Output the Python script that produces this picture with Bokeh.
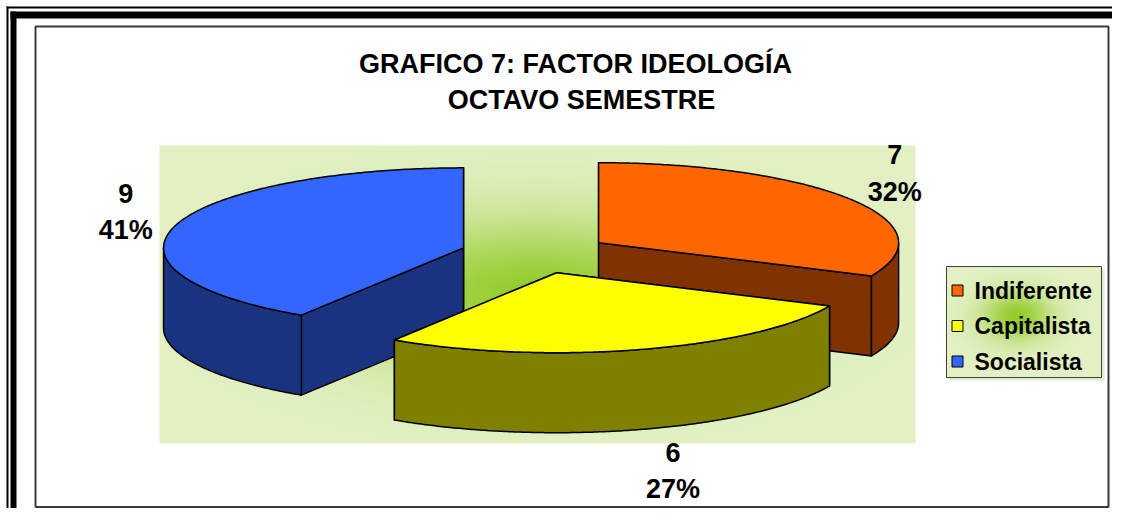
import numpy as np
from bokeh.plotting import figure
from bokeh.models import Range1d
from bokeh.embed import file_html
from bokeh.resources import INLINE
from bokeh.core.properties import value

# ---------------- data ----------------
categories = ["Indiferente", "Capitalista", "Socialista"]
counts = [7, 6, 9]
top_colors = ["#FF6600", "#FFFF00", "#3366FF"]
side_colors = ["#803300", "#808000", "#1A3380"]
title_lines = ["GRAFICO 7: FACTOR IDEOLOGÍA", "OCTAVO SEMESTRE"]

# ---------------- layout (pixels) ----------------
W, H = 1112, 508
FONT = value("Liberation Sans")

p = figure(width=W, height=H, x_range=Range1d(0, W), y_range=Range1d(-H, 0),
           output_backend="svg", toolbar_location=None, min_border=0)
p.axis.visible = False
p.grid.visible = False
p.outline_line_color = None
p.background_fill_color = "white"
p.border_fill_color = "white"


def Y(sy):
    return -np.asarray(sy, dtype=float)


def rect(l, t, r, b, **kw):
    p.quad(left=l, right=r, top=float(Y(t)), bottom=float(Y(b)), **kw)


# outer frame (double line)
rect(6, 6, W, 8, fill_color="black", line_color=None)
rect(6, 6, 8, H, fill_color="black", line_color=None)
rect(10, 11, W, 18, fill_color="black", line_color=None)
rect(10, 11, 16, H, fill_color="black", line_color=None)
# inner chart border
rect(35, 26, 1108, H - 1.5, fill_color=None, line_color="#3a3a3a", line_width=2)


def gradient(w, h, cu, cv, su, sv, spread):
    edge = np.array([227, 241, 196], dtype=float)
    centre = np.array([150, 204, 45], dtype=float)
    yy, xx = np.mgrid[0:h, 0:w]
    u = (xx - cu) / su
    v = (yy - cv) / sv
    r = np.sqrt(u ** 2 + v ** 2)
    wgt = np.exp(-(r / spread) ** 2)[..., None]
    col = edge + (centre - edge) * wgt
    img = np.zeros((h, w), dtype=np.uint32)
    view = img.view(dtype=np.uint8).reshape((h, w, 4))
    view[..., 0] = col[..., 0]
    view[..., 1] = col[..., 1]
    view[..., 2] = col[..., 2]
    view[..., 3] = 255
    return img


# plot-area background
PA_L, PA_T, PA_R, PA_B = 159, 145, 915, 443
pw, ph = PA_R - PA_L, PA_B - PA_T
img = gradient(pw, ph, pw * 0.5, ph * 0.5, pw * 0.5, ph * 0.5, 0.5)
p.image_rgba(image=[img], x=PA_L, y=float(Y(PA_B)), dw=pw, dh=ph)

# ---------------- 3D exploded pie ----------------
CX, CY = 535.0, 253.0
RX, RY = 300.0, 80.0
DEPTH = 80.0
EXPLODE = 0.25

vals = np.array(counts, dtype=float)
frac = vals / vals.sum()
ends_cum = np.cumsum(frac) * 360.0
starts = 90.0 - (ends_cum - frac * 360.0)
ends = 90.0 - ends_cum
mids = (starts + ends) / 2.0

order = np.argsort(-np.sin(np.radians(mids)))  # back slices first
for i in order:
    s, e, m = starts[i], ends[i], mids[i]
    mr = np.radians(m)
    ax = CX + EXPLODE * RX * np.cos(mr)
    ay = CY - EXPLODE * RY * np.sin(mr)
    t = np.radians(np.linspace(s, e, 200))
    arc_x = ax + RX * np.cos(t)
    arc_y = ay - RY * np.sin(t)
    kw = dict(line_color="black", line_width=1.5, line_join="round")
    # radial faces
    for k in (0, -1):
        qx = [ax, arc_x[k], arc_x[k], ax]
        qy = [ay, arc_y[k], arc_y[k] + DEPTH, ay + DEPTH]
        p.patch(qx, list(Y(qy)), fill_color=side_colors[i], **kw)
    # outer wall (front part)
    front = np.sin(t) <= 1e-9
    if front.any():
        fx = arc_x[front]
        fy = arc_y[front]
        wx = np.concatenate([fx, fx[::-1]])
        wy = np.concatenate([fy, (fy + DEPTH)[::-1]])
        p.patch(list(wx), list(Y(wy)), fill_color=side_colors[i], **kw)
    # top face
    tx = np.concatenate([[ax], arc_x])
    ty = np.concatenate([[ay], arc_y])
    p.patch(list(tx), list(Y(ty)), fill_color=top_colors[i], **kw)

# data labels
pct = [f"{round(f * 100):d}%" for f in frac]
LPX, LPY_BACK, LPY_FRONT, FRONT_SHIFT = 52.0, 48.0, 43.0, 18.0
lx, ly = [], []
for i in range(len(counts)):
    mr = np.radians(mids[i])
    sn = np.sin(mr)
    ax = CX + EXPLODE * RX * np.cos(mr)
    ay = CY - EXPLODE * RY * sn
    x = ax + (RX + LPX) * np.cos(mr) + FRONT_SHIFT * max(0.0, -sn)
    if sn < 0:
        y = ay - (RY + LPY_FRONT) * sn + DEPTH
    else:
        y = ay - (RY + LPY_BACK) * sn
    lx.append(x)
    ly.append(y)
ly = np.array(ly)
p.text(x=lx, y=list(Y(ly - 18.5)), text=[str(c) for c in counts], text_font=FONT,
       text_font_style="bold", text_font_size="27px", text_align="center",
       text_baseline="middle", text_color="black")
p.text(x=lx, y=list(Y(ly + 18.5)), text=pct, text_font=FONT,
       text_font_style="bold", text_font_size="27px", text_align="center",
       text_baseline="middle", text_color="black")

# title
p.text(x=[575, 581], y=list(Y([63, 99])), text=title_lines, text_font=FONT,
       text_font_style="bold", text_font_size="27px", text_align="center",
       text_baseline="middle", text_color="black")

# ---------------- legend ----------------
LG_L, LG_T, LG_R, LG_B = 946, 266, 1101, 377
rect(LG_L + 3, LG_T + 3, LG_R + 3, LG_B + 3, fill_color="#E4EBD4", line_color=None)
lw, lh = LG_R - LG_L, LG_B - LG_T
limg = gradient(lw, lh, lw * 0.45, lh * 0.55, lw * 0.5, lh * 0.5, 0.45)
p.image_rgba(image=[limg], x=LG_L, y=float(Y(LG_B)), dw=lw, dh=lh)
rect(LG_L, LG_T, LG_R, LG_B, fill_color=None, line_color="#404040", line_width=1)
ys = 290 + np.arange(len(categories)) * 35.5
p.scatter(x=[957] * len(categories), y=list(Y(ys)), marker="square", size=11,
          fill_color=top_colors, line_color="black", line_width=1)
p.text(x=[974] * len(categories), y=list(Y(ys)), text=categories, text_font=FONT,
       text_font_style="bold", text_font_size="23px", text_align="left",
       text_baseline="middle", text_color="black")

open("out.html", "w").write(file_html(p, INLINE))
